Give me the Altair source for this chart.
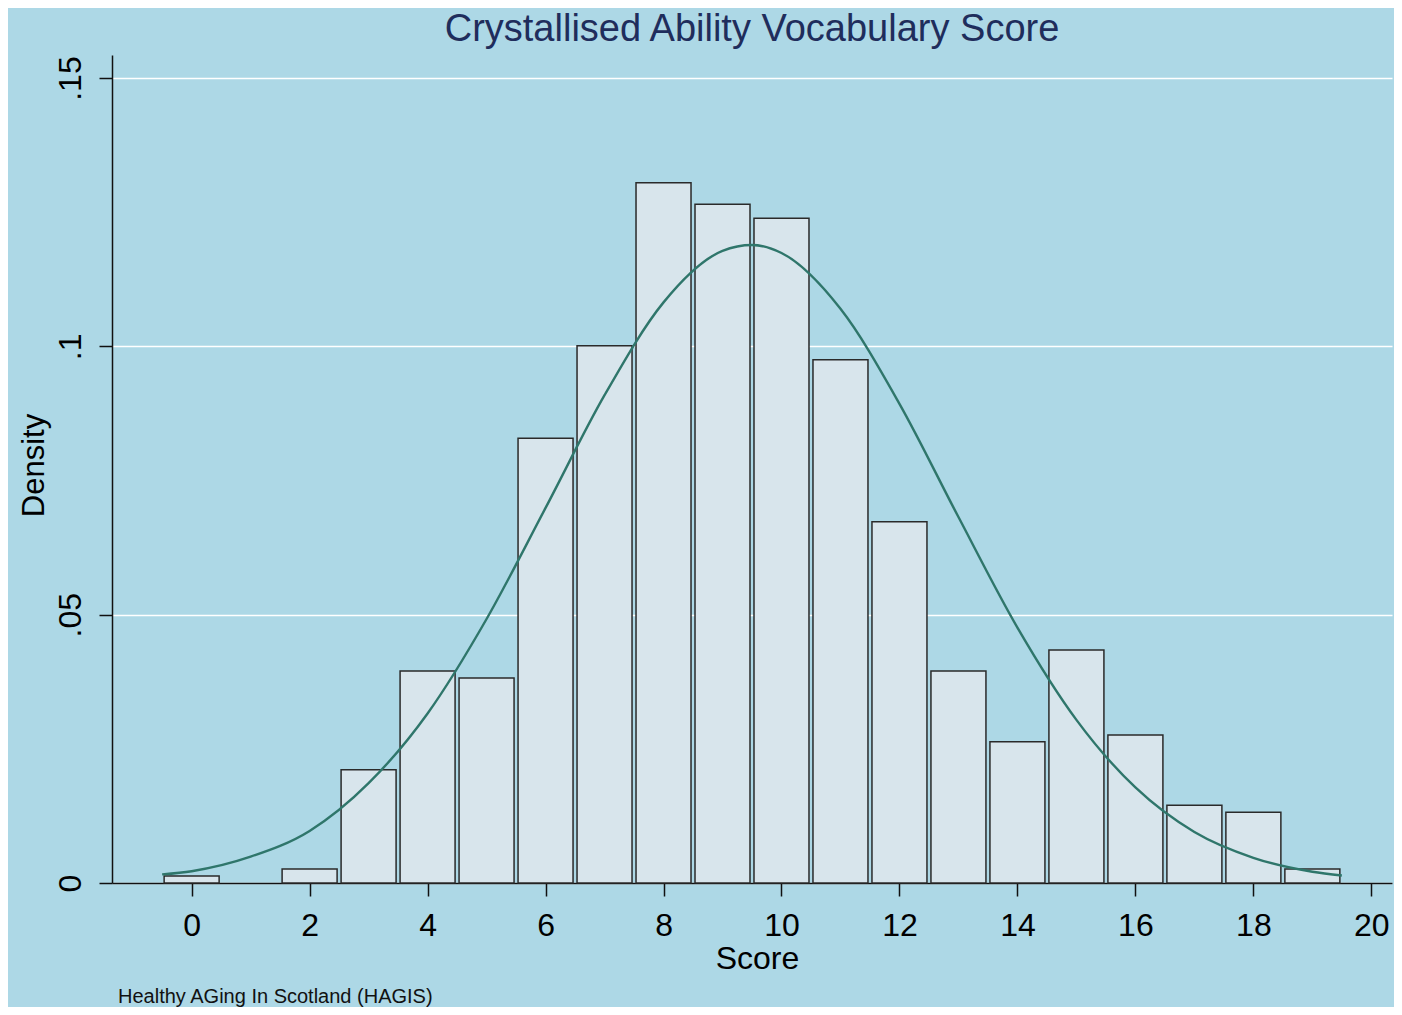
import altair as alt
import pandas as pd

# ---- data ----
scores = list(range(0, 20))
densities = [0.0013, 0.0, 0.0026, 0.0211, 0.0395, 0.0382, 0.0829, 0.1001,
             0.1305, 0.1265, 0.1239, 0.0975, 0.0673, 0.0395, 0.0263, 0.0434,
             0.0276, 0.0145, 0.0132, 0.0026]

curve_x = [-0.5, 0, 1, 2, 3, 4, 5, 6, 7, 8, 9, 9.5, 10, 11, 12, 13, 14, 15,
           16, 17, 18, 19, 19.5]
curve_y = [0.0016, 0.0022, 0.0049, 0.0097, 0.0186, 0.0316, 0.0492, 0.0699,
           0.0909, 0.1082, 0.1178, 0.1189, 0.1174, 0.1070, 0.0893, 0.0682,
           0.0476, 0.0304, 0.0178, 0.0095, 0.0047, 0.0021, 0.0014]

x_ticks = [0, 2, 4, 6, 8, 10, 12, 14, 16, 18, 20]
y_ticks = [0, 0.05, 0.1, 0.15]
y_tick_labels = ["0", ".05", ".1", ".15"]

title_text = "Crystallised Ability Vocabulary Score"
x_title = "Score"
y_title = "Density"
footer = "Healthy AGing In Scotland (HAGIS)"

# ---- tables ----
bars_df = pd.DataFrame({"score": scores, "density": densities})
bars_df = bars_df[bars_df["density"] > 0]
curve_df = pd.DataFrame({"score": curve_x, "density": curve_y})
footer_df = pd.DataFrame({"note": [footer]})

FONT = "Liberation Sans"
BG = "#add8e6"
PLOT_W = 1280
PLOT_H = 828

label_expr = " : ".join(
    [f"datum.value == {v} ? '{l}'" for v, l in zip(y_ticks, y_tick_labels)]
) + " : ''"

x_scale = alt.Scale(domain=[-1.35, 20.35], nice=False, zero=False, padding=0)
y_scale = alt.Scale(domain=[0, 0.1543], nice=False, zero=True, padding=0)

x_axis = alt.Axis(
    values=x_ticks, title=x_title, grid=False, format="d",
    labelFontSize=32, labelFont=FONT, labelColor="black",
    labelBaseline="alphabetic", labelPadding=39,
    tickSize=13, tickColor="#111", tickWidth=1.5,
    domainColor="#111", domainWidth=1.5,
    titleFontSize=32, titleFont=FONT, titleFontWeight="normal",
    titleColor="black", titleBaseline="alphabetic",
    titleX=PLOT_W / 2 + 5, titleY=85, titleAnchor="middle",
)

y_axis = alt.Axis(
    values=y_ticks, title=y_title, labelExpr=label_expr,
    grid=True, gridColor="white", gridWidth=1.5,
    labelFontSize=32, labelFont=FONT, labelColor="black",
    labelAngle=270, labelAlign="center", labelBaseline="alphabetic",
    labelPadding=19,
    tickSize=13, tickColor="#111", tickWidth=1.5,
    domainColor="#111", domainWidth=1.5,
    titleFontSize=31, titleFont=FONT, titleFontWeight="normal",
    titleColor="black", titleAngle=270, titleAlign="center",
    titleBaseline="alphabetic", titleX=-69, titleY=PLOT_H / 2 - 4,
)

bars = alt.Chart(bars_df).mark_bar(
    size=55, fill="#d8e5ec", stroke="#2a2a2a", strokeWidth=1.5
).encode(
    x=alt.X("score:Q", scale=x_scale, axis=x_axis),
    y=alt.Y("density:Q", scale=y_scale, axis=y_axis),
)

curve = alt.Chart(curve_df).mark_line(
    color="#2f766b", strokeWidth=2.4, interpolate="monotone"
).encode(
    x=alt.X("score:Q", scale=x_scale),
    y=alt.Y("density:Q", scale=y_scale),
)

note = alt.Chart(footer_df).mark_text(
    align="left", baseline="alphabetic", fontSize=20, font=FONT,
    color="#111"
).encode(
    x=alt.value(6),
    y=alt.value(948),
    text="note:N",
)

chart = alt.layer(bars, curve, note).properties(
    width=PLOT_W,
    height=PLOT_H,
    background=BG,
    padding={"left": 104, "top": 47, "right": 2, "bottom": 124},
    autosize=alt.AutoSizeParams(type="none"),
    title=alt.TitleParams(
        text=title_text, fontSize=38, font=FONT, fontWeight="normal",
        color="#1f2d5c", anchor="middle", baseline="alphabetic", offset=14,
        dy=38,
    ),
).configure_view(stroke=None)

chart.save("out.html", embed_options={"renderer": "svg", "actions": False})
